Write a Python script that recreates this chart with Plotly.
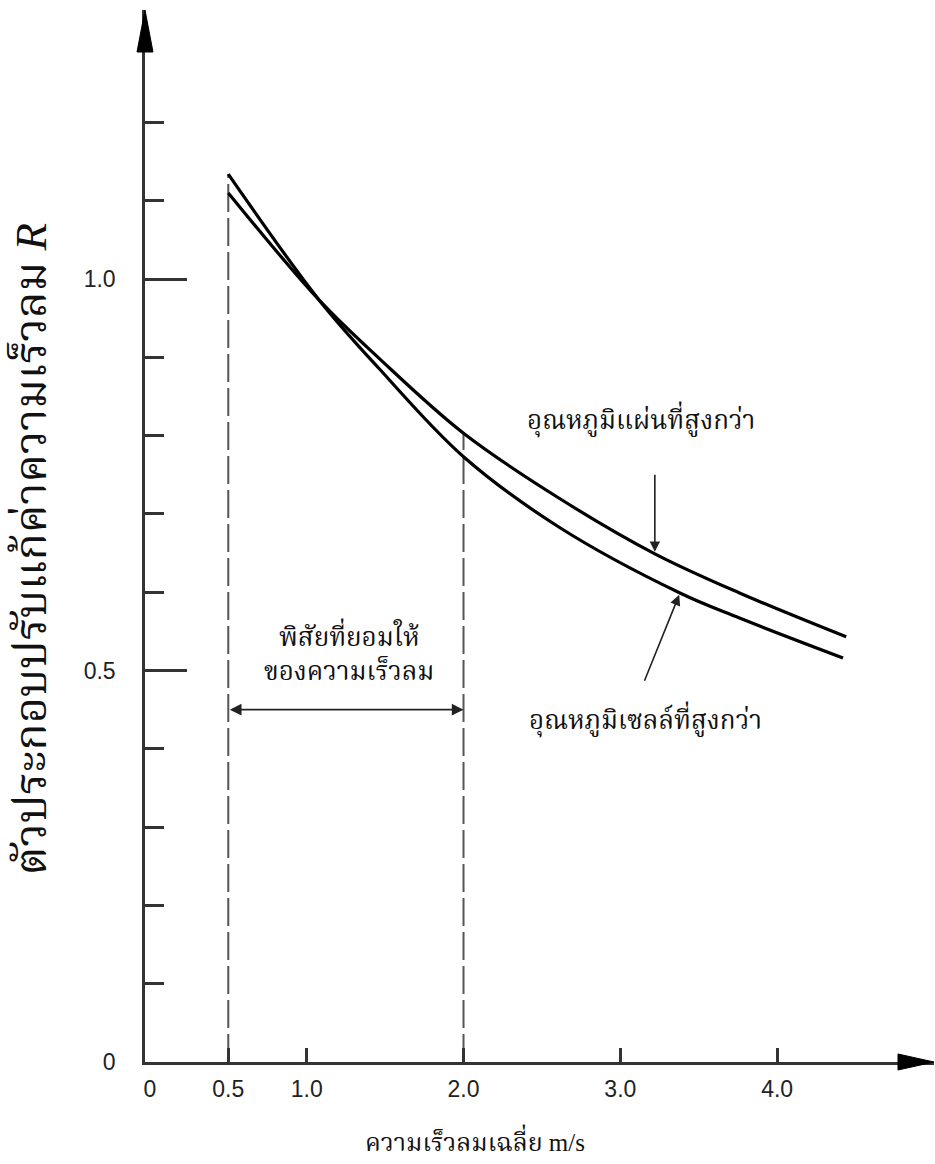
import plotly.graph_objects as go

# ---- data ----
wind_plate = [0.5, 1.08, 1.46, 2.0, 2.61, 3.22, 3.76, 4.44]
r_plate = [1.110, 0.973, 0.899, 0.803, 0.720, 0.649, 0.599, 0.543]
wind_cell = [0.5, 1.08, 1.46, 2.0, 2.61, 3.38, 3.76, 4.42]
r_cell = [1.134, 0.973, 0.886, 0.773, 0.683, 0.599, 0.567, 0.516]

x_tick_vals = [0, 0.5, 1, 2, 3, 4]
x_tick_text = ["0", "0.5", "1.0", "2.0", "3.0", "4.0"]
y_major_vals = [0, 0.5, 1.0]
y_major_text = ["0", "0.5", "1.0"]
y_minor_vals = [0.1, 0.2, 0.3, 0.4, 0.6, 0.7, 0.8, 0.9, 1.1, 1.2]

range_limits = [0.5, 2.0]          # permitted wind-speed range
range_arrow_level = 0.45

label_plate = "อุณหภูมิแผ่นที่สูงกว่า"
label_cell = "อุณหภูมิเซลล์ที่สูงกว่า"
label_range = "พิสัยที่ยอมให้<br>ของความเร็วลม"
x_title = "ความเร็วลมเฉลี่ย m/s"
y_title = "ตัวประกอบปรับแก้ค่าความเร็วลม <i>R</i>"

THAI = ("'Liberation Serif', 'Kinnari', 'Norasi', 'Laksaman', 'Noto Serif Thai', "
        "'TH Sarabun New', 'Tlwg Typo', serif")
AX = "#333333"

fig = go.Figure()

# dashed limit lines
fig.add_trace(go.Scatter(x=[range_limits[0], range_limits[0]], y=[0, r_cell[0]],
                         mode="lines", line=dict(color="#555555", width=2, dash="28px,6px"),
                         hoverinfo="skip", showlegend=False))
fig.add_trace(go.Scatter(x=[range_limits[1], range_limits[1]],
                         y=[0, r_plate[wind_plate.index(range_limits[1])]],
                         mode="lines", line=dict(color="#555555", width=2, dash="28px,6px"),
                         hoverinfo="skip", showlegend=False))

# curves
fig.add_trace(go.Scatter(x=wind_plate, y=r_plate, mode="lines", name="plate",
                         line=dict(color="black", width=3.2, shape="spline", smoothing=1.0),
                         showlegend=False))
fig.add_trace(go.Scatter(x=wind_cell, y=r_cell, mode="lines", name="cell",
                         line=dict(color="black", width=3.2, shape="spline", smoothing=1.0),
                         showlegend=False))

ann = []
# double arrow for range
ann.append(dict(x=range_limits[1], y=range_arrow_level, ax=range_limits[0], ay=range_arrow_level,
                xref="x", yref="y", axref="x", ayref="y", text="", showarrow=True,
                arrowhead=2, arrowside="end+start", arrowsize=1.3, arrowwidth=1.8,
                arrowcolor="#222222", standoff=0, startstandoff=0))
ann.append(dict(x=1.27, y=0.524, xref="x", yref="y", text=label_range, showarrow=False,
                font=dict(family=THAI, size=26, color="#111111"), align="center"))
# pointer arrows
ann.append(dict(x=3.22, y=0.649, ax=3.22, ay=0.752, xref="x", yref="y", axref="x", ayref="y",
                text="", showarrow=True, arrowhead=2, arrowsize=1.3, arrowwidth=1.6,
                arrowcolor="#222222", standoff=2))
ann.append(dict(x=3.38, y=0.599, ax=3.15, ay=0.485, xref="x", yref="y", axref="x", ayref="y",
                text="", showarrow=True, arrowhead=2, arrowsize=1.3, arrowwidth=1.6,
                arrowcolor="#222222", standoff=2))
ann.append(dict(x=3.13, y=0.820, xref="x", yref="y", text=label_plate, showarrow=False,
                font=dict(family=THAI, size=26, color="#111111")))
ann.append(dict(x=3.16, y=0.437, xref="x", yref="y", text=label_cell, showarrow=False,
                font=dict(family=THAI, size=26, color="#111111")))
# axis titles
ann.append(dict(x=0.418, y=-0.074, xref="paper", yref="paper", text=x_title, showarrow=False,
                font=dict(family=THAI, size=25, color="#111111"), xanchor="center", yanchor="middle"))
ann.append(dict(x=-0.145, y=0.487, xref="paper", yref="paper", text=y_title, showarrow=False,
                textangle=-90, font=dict(family=THAI, size=45, color="#111111"),
                xanchor="center", yanchor="middle"))

shapes = [
    # arrowhead of x axis
    dict(type="path", xref="paper", yref="paper", xsizemode="pixel", ysizemode="pixel",
         xanchor=1, yanchor=0, path="M0,0 L-36,8 L-36,-8 Z",
         fillcolor="black", line=dict(color="black", width=1)),
    # arrowhead of y axis
    dict(type="path", xref="paper", yref="paper", xsizemode="pixel", ysizemode="pixel",
         xanchor=0, yanchor=1, path="M0,0 L-8,-42 L8,-42 Z",
         fillcolor="black", line=dict(color="black", width=1)),
]

fig.update_layout(
    width=935, height=1164,
    margin=dict(l=145, r=1, t=10, b=102),
    paper_bgcolor="white", plot_bgcolor="white",
    annotations=ann, shapes=shapes,
    xaxis=dict(range=[-0.031, 5.0], showgrid=False, zeroline=False,
               showline=True, linecolor=AX, linewidth=2.5,
               tickmode="array", tickvals=x_tick_vals, ticktext=x_tick_text, ticks="",
               tickfont=dict(family="Liberation Sans", size=23, color="#222222"),
               ticklabelstandoff=5,
               minor=dict(tickmode="array", tickvals=x_tick_vals[1:], ticks="inside",
                          ticklen=14, tickwidth=2.5, tickcolor=AX, showgrid=False)),
    yaxis=dict(range=[0, 1.3436], showgrid=False, zeroline=False,
               showline=True, linecolor=AX, linewidth=2.5,
               tickmode="array", tickvals=y_major_vals, ticktext=y_major_text,
               ticks="inside", ticklen=42, tickwidth=2.5, tickcolor=AX,
               tickfont=dict(family="Liberation Sans", size=23, color="#222222"),
               ticklabelstandoff=22,
               minor=dict(tickmode="array", tickvals=y_minor_vals, ticks="inside",
                          ticklen=19, tickwidth=2.5, tickcolor=AX, showgrid=False)),
)

fig.write_html("out.html")
